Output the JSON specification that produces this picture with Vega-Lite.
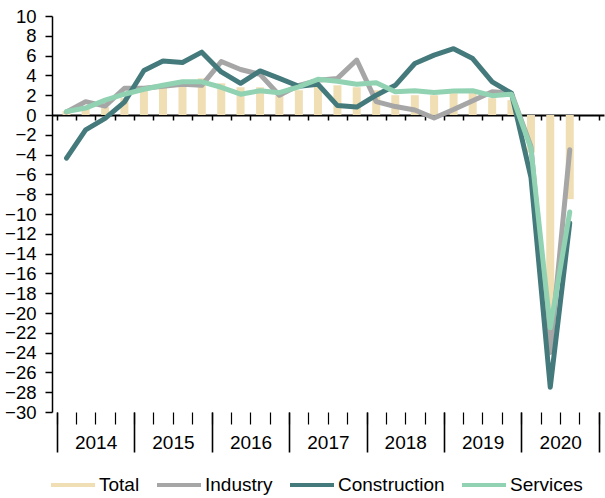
{
  "$schema": "https://vega.github.io/schema/vega-lite/v6.json",
  "width": 552,
  "height": 396,
  "autosize": {"type": "none"},
  "padding": {"left": 52, "top": 16, "right": 1, "bottom": 86},
  "background": "white",
  "config": {
    "view": {"stroke": null},
    "font": "Liberation Sans",
    "axis": {"labelFont": "Liberation Sans", "labelColor": "#000", "tickColor": "#000", "domainColor": "#000", "grid": false, "title": null}
  },
  "data": {
    "values": [
      {"date": "2014-02-15", "series": "Total", "value": 0.4},
      {"date": "2014-05-16", "series": "Total", "value": 0.9},
      {"date": "2014-08-16", "series": "Total", "value": 0.8},
      {"date": "2014-11-15", "series": "Total", "value": 1.7},
      {"date": "2015-02-15", "series": "Total", "value": 2.5},
      {"date": "2015-05-16", "series": "Total", "value": 2.8},
      {"date": "2015-08-16", "series": "Total", "value": 3.0},
      {"date": "2015-11-15", "series": "Total", "value": 3.7},
      {"date": "2016-02-15", "series": "Total", "value": 3.2},
      {"date": "2016-05-16", "series": "Total", "value": 2.8},
      {"date": "2016-08-16", "series": "Total", "value": 2.8},
      {"date": "2016-11-15", "series": "Total", "value": 2.0},
      {"date": "2017-02-15", "series": "Total", "value": 2.5},
      {"date": "2017-05-16", "series": "Total", "value": 2.9},
      {"date": "2017-08-16", "series": "Total", "value": 3.0},
      {"date": "2017-11-15", "series": "Total", "value": 2.8},
      {"date": "2018-02-15", "series": "Total", "value": 2.5},
      {"date": "2018-05-16", "series": "Total", "value": 2.0},
      {"date": "2018-08-16", "series": "Total", "value": 2.0},
      {"date": "2018-11-15", "series": "Total", "value": 2.0},
      {"date": "2019-02-15", "series": "Total", "value": 2.2},
      {"date": "2019-05-16", "series": "Total", "value": 2.2},
      {"date": "2019-08-16", "series": "Total", "value": 1.7},
      {"date": "2019-11-15", "series": "Total", "value": 1.5},
      {"date": "2020-02-15", "series": "Total", "value": -3.8},
      {"date": "2020-05-16", "series": "Total", "value": -20.5},
      {"date": "2020-08-16", "series": "Total", "value": -8.5},

      {"date": "2014-02-15", "series": "Industry", "value": 0.3},
      {"date": "2014-05-16", "series": "Industry", "value": 1.35},
      {"date": "2014-08-16", "series": "Industry", "value": 0.9},
      {"date": "2014-11-15", "series": "Industry", "value": 2.7},
      {"date": "2015-02-15", "series": "Industry", "value": 2.7},
      {"date": "2015-05-16", "series": "Industry", "value": 2.9},
      {"date": "2015-08-16", "series": "Industry", "value": 3.1},
      {"date": "2015-11-15", "series": "Industry", "value": 3.0},
      {"date": "2016-02-15", "series": "Industry", "value": 5.4},
      {"date": "2016-05-16", "series": "Industry", "value": 4.6},
      {"date": "2016-08-16", "series": "Industry", "value": 4.1},
      {"date": "2016-11-15", "series": "Industry", "value": 2.0},
      {"date": "2017-02-15", "series": "Industry", "value": 3.0},
      {"date": "2017-05-16", "series": "Industry", "value": 3.5},
      {"date": "2017-08-16", "series": "Industry", "value": 3.7},
      {"date": "2017-11-15", "series": "Industry", "value": 5.55},
      {"date": "2018-02-15", "series": "Industry", "value": 1.35},
      {"date": "2018-05-16", "series": "Industry", "value": 0.85},
      {"date": "2018-08-16", "series": "Industry", "value": 0.5},
      {"date": "2018-11-15", "series": "Industry", "value": -0.3},
      {"date": "2019-02-15", "series": "Industry", "value": 0.55},
      {"date": "2019-05-16", "series": "Industry", "value": 1.45},
      {"date": "2019-08-16", "series": "Industry", "value": 2.35},
      {"date": "2019-11-15", "series": "Industry", "value": 2.2},
      {"date": "2020-02-15", "series": "Industry", "value": -3.2},
      {"date": "2020-05-16", "series": "Industry", "value": -24.0},
      {"date": "2020-08-16", "series": "Industry", "value": -3.5},

      {"date": "2014-02-15", "series": "Construction", "value": -4.35},
      {"date": "2014-05-16", "series": "Construction", "value": -1.5},
      {"date": "2014-08-16", "series": "Construction", "value": -0.35},
      {"date": "2014-11-15", "series": "Construction", "value": 1.3},
      {"date": "2015-02-15", "series": "Construction", "value": 4.5},
      {"date": "2015-05-16", "series": "Construction", "value": 5.45},
      {"date": "2015-08-16", "series": "Construction", "value": 5.3},
      {"date": "2015-11-15", "series": "Construction", "value": 6.35},
      {"date": "2016-02-15", "series": "Construction", "value": 4.35},
      {"date": "2016-05-16", "series": "Construction", "value": 3.2},
      {"date": "2016-08-16", "series": "Construction", "value": 4.45},
      {"date": "2016-11-15", "series": "Construction", "value": 3.7},
      {"date": "2017-02-15", "series": "Construction", "value": 2.9},
      {"date": "2017-05-16", "series": "Construction", "value": 3.1},
      {"date": "2017-08-16", "series": "Construction", "value": 0.95},
      {"date": "2017-11-15", "series": "Construction", "value": 0.8},
      {"date": "2018-02-15", "series": "Construction", "value": 2.0},
      {"date": "2018-05-16", "series": "Construction", "value": 3.0},
      {"date": "2018-08-16", "series": "Construction", "value": 5.2},
      {"date": "2018-11-15", "series": "Construction", "value": 6.05},
      {"date": "2019-02-15", "series": "Construction", "value": 6.7},
      {"date": "2019-05-16", "series": "Construction", "value": 5.7},
      {"date": "2019-08-16", "series": "Construction", "value": 3.35},
      {"date": "2019-11-15", "series": "Construction", "value": 2.2},
      {"date": "2020-02-15", "series": "Construction", "value": -6.3},
      {"date": "2020-05-16", "series": "Construction", "value": -27.5},
      {"date": "2020-08-16", "series": "Construction", "value": -10.9},

      {"date": "2014-02-15", "series": "Services", "value": 0.35},
      {"date": "2014-05-16", "series": "Services", "value": 0.7},
      {"date": "2014-08-16", "series": "Services", "value": 1.5},
      {"date": "2014-11-15", "series": "Services", "value": 2.1},
      {"date": "2015-02-15", "series": "Services", "value": 2.6},
      {"date": "2015-05-16", "series": "Services", "value": 3.0},
      {"date": "2015-08-16", "series": "Services", "value": 3.35},
      {"date": "2015-11-15", "series": "Services", "value": 3.35},
      {"date": "2016-02-15", "series": "Services", "value": 2.8},
      {"date": "2016-05-16", "series": "Services", "value": 2.1},
      {"date": "2016-08-16", "series": "Services", "value": 2.45},
      {"date": "2016-11-15", "series": "Services", "value": 2.25},
      {"date": "2017-02-15", "series": "Services", "value": 2.85},
      {"date": "2017-05-16", "series": "Services", "value": 3.6},
      {"date": "2017-08-16", "series": "Services", "value": 3.4},
      {"date": "2017-11-15", "series": "Services", "value": 3.1},
      {"date": "2018-02-15", "series": "Services", "value": 3.25},
      {"date": "2018-05-16", "series": "Services", "value": 2.35},
      {"date": "2018-08-16", "series": "Services", "value": 2.45},
      {"date": "2018-11-15", "series": "Services", "value": 2.28},
      {"date": "2019-02-15", "series": "Services", "value": 2.43},
      {"date": "2019-05-16", "series": "Services", "value": 2.45},
      {"date": "2019-08-16", "series": "Services", "value": 1.95},
      {"date": "2019-11-15", "series": "Services", "value": 2.1},
      {"date": "2020-02-15", "series": "Services", "value": -3.4},
      {"date": "2020-05-16", "series": "Services", "value": -21.5},
      {"date": "2020-08-16", "series": "Services", "value": -9.8}
    ]
  },
  "encoding": {
    "y": {
      "field": "value",
      "type": "quantitative",
      "scale": {"domain": [-30, 10], "nice": false, "zero": false},
      "axis": {
        "values": [-30, -28, -26, -24, -22, -20, -18, -16, -14, -12, -10, -8, -6, -4, -2, 0, 2, 4, 6, 8, 10],
        "title": null,
        "labelFontSize": 18.5,
        "tickSize": 7,
        "tickWidth": 1.5,
        "domainWidth": 1.5,
        "labelPadding": 9,
        "labelOverlap": false
      }
    },
    "color": {
      "field": "series",
      "type": "nominal",
      "scale": {
        "domain": ["Total", "Industry", "Construction", "Services"],
        "range": ["#F0DEB4", "#A6A6A6", "#457A7C", "#91D2B2"]
      },
      "legend": {
        "orient": "none",
        "legendX": -1,
        "legendY": 447,
        "direction": "horizontal",
        "columns": 4,
        "title": null,
        "symbolSize": 1936,
        "symbolStrokeWidth": 0,
        "labelFontSize": 19,
        "labelFont": "Liberation Sans",
        "labelColor": "#000",
        "labelOffset": 4,
        "columnPadding": 17,
        "padding": 0,
        "encode": {
          "symbols": {
            "update": {
              "shape": {"condition": {"test": "datum.value === 'Total'", "value": "M-1,-0.2L1,-0.2L1,0.2L-1,0.2Z"}, "value": "M-1,-0.09L1,-0.09L1,0.09L-1,0.09Z"},
              "fill": {"condition": [
                {"test": "datum.value === 'Total'", "value": "#F0DEB4"},
                {"test": "datum.value === 'Industry'", "value": "#A6A6A6"},
                {"test": "datum.value === 'Construction'", "value": "#457A7C"}
              ], "value": "#91D2B2"},
              "stroke": {"value": "transparent"},
              "opacity": {"value": 1}
            }
          }
        }
      }
    }
  },
  "resolve": {"axis": {"x": "independent"}},
  "layer": [
    {
      "transform": [{"filter": "datum.series === 'Total'"}],
      "mark": {"type": "bar", "width": 8},
      "encoding": {
        "x": {
          "field": "date",
          "type": "temporal",
          "scale": {"type": "utc", "domain": [{"year": 2014, "month": 1, "date": 1, "utc": true}, {"year": 2021, "month": 1, "date": 1, "utc": true}]},
          "axis": {
            "orient": "bottom",
            "title": null,
            "values": [
              {"year": 2014, "month": 7, "date": 2, "utc": true},
              {"year": 2015, "month": 7, "date": 2, "utc": true},
              {"year": 2016, "month": 7, "date": 2, "utc": true},
              {"year": 2017, "month": 7, "date": 2, "utc": true},
              {"year": 2018, "month": 7, "date": 2, "utc": true},
              {"year": 2019, "month": 7, "date": 2, "utc": true},
              {"year": 2020, "month": 7, "date": 2, "utc": true}
            ],
            "format": "%Y",
            "ticks": false,
            "tickSize": 0,
            "domain": false,
            "labelFontSize": 19,
            "labelPadding": 21,
            "labelFlush": false,
            "labelOverlap": false
          }
        }
      }
    },
    {
      "transform": [{"filter": "datum.series === 'Industry'"}],
      "mark": {"type": "line", "strokeWidth": 5, "strokeJoin": "round", "strokeCap": "round"},
      "encoding": {
        "x": {
          "field": "date",
          "type": "temporal",
          "scale": {"type": "utc", "domain": [{"year": 2014, "month": 1, "date": 1, "utc": true}, {"year": 2021, "month": 1, "date": 1, "utc": true}]},
          "axis": {
            "orient": "bottom",
            "title": null,
            "tickCount": {"interval": "month", "step": 3},
            "labels": false,
            "domain": false,
            "tickSize": 12,
            "tickWidth": 1.2
          }
        }
      }
    },
    {
      "transform": [{"filter": "datum.series === 'Construction'"}],
      "mark": {"type": "line", "strokeWidth": 5, "strokeJoin": "round", "strokeCap": "round"},
      "encoding": {
        "x": {
          "field": "date",
          "type": "temporal",
          "scale": {"type": "utc", "domain": [{"year": 2014, "month": 1, "date": 1, "utc": true}, {"year": 2021, "month": 1, "date": 1, "utc": true}]},
          "axis": {
            "orient": "bottom",
            "title": null,
            "tickCount": {"interval": "year", "step": 1},
            "labels": false,
            "domain": false,
            "tickSize": 40,
            "tickWidth": 1.6
          }
        }
      }
    },
    {
      "transform": [{"filter": "datum.series === 'Services'"}],
      "mark": {"type": "line", "strokeWidth": 5, "strokeJoin": "round", "strokeCap": "round"},
      "encoding": {
        "x": {
          "field": "date",
          "type": "temporal",
          "scale": {"type": "utc", "domain": [{"year": 2014, "month": 1, "date": 1, "utc": true}, {"year": 2021, "month": 1, "date": 1, "utc": true}]},
          "axis": {
            "orient": "bottom",
            "title": null,
            "offset": -297,
            "tickCount": {"interval": "month", "step": 3},
            "labels": false,
            "domain": true,
            "domainWidth": 2,
            "tickSize": 5,
            "tickWidth": 1.5
          }
        }
      }
    }
  ]
}
